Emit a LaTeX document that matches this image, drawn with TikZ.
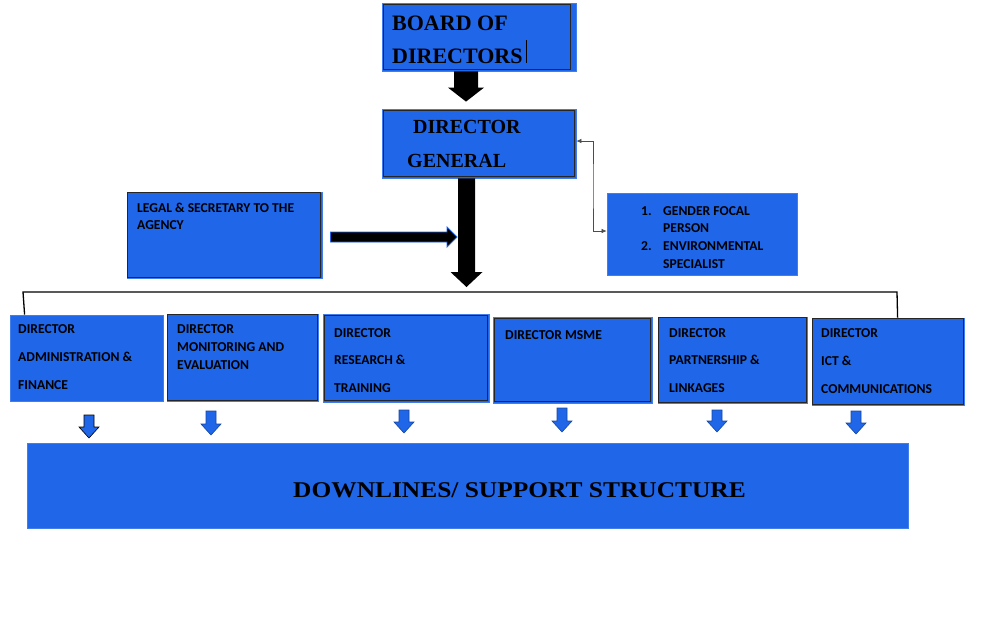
\documentclass[tikz,border=0pt]{standalone}
\usepackage{fontspec}
\setmainfont{Liberation Serif}
\newfontfamily\calfont{Carlito}
\usetikzlibrary{calc,arrows.meta}
\definecolor{boxblue}{RGB}{31,102,232}
\tikzset{
 box/.style={rectangle, fill=boxblue, draw=boxblue!85!white, line width=0.8pt, inner sep=0pt},
 rimline/.style={draw=black!85, line width=0.9pt},
 lbl/.style={anchor=base west, inner sep=0pt, text=black},
 dtext/.style={lbl, font=\calfont\bfseries\fontsize{13.6}{15}\selectfont},
 stext/.style={lbl, font=\bfseries\fontsize{22}{26}\selectfont},
 gtext/.style={lbl, font=\bfseries\fontsize{20}{24}\selectfont},
 blk/.style={fill=black},
 lgarrow/.style={fill=black, draw=boxblue, line width=0.8pt},
 sarrow/.style={fill=boxblue, draw=boxblue!70!black, line width=0.6pt},
 sarrowk/.style={fill=boxblue, draw=black, line width=0.6pt},
 conn/.style={draw=black!70, line width=0.6pt, {Latex[length=5pt,width=4.5pt]}-{Latex[length=5pt,width=4.5pt]}},
 bracket/.style={draw=black, line width=1.3pt},
}
\newcommand\Lines[2]{\parbox[t]{9cm}{\setlength{\baselineskip}{#1}#2}}
\newcommand\rim[3]{\draw[rimline] ([shift={(#2pt,-#2pt)}]#1.north west) rectangle ([shift={(-#3pt,#2pt)}]#1.south east);}
\newcommand\vblock[6][blk]{\path[#1] let \p1=(#2), \p2=(#3) in (\x1-#4,\y1) -- (\x1+#4,\y1) -- (\x1+#4,\y2+#6) -- (\x1+#5,\y2+#6) -- (\x1,\y2) -- (\x1-#5,\y2+#6) -- (\x1-#4,\y2+#6) -- cycle;}
\newcommand\hblock[6][blk]{\path[#1] let \p1=(#2), \p2=(#3) in (\x1,\y1-#4) -- (\x1,\y1+#4) -- (\x2-#6,\y1+#4) -- (\x2-#6,\y1+#5) -- (\x2,\y1) -- (\x2-#6,\y1-#5) -- (\x2-#6,\y1-#4) -- cycle;}
\begin{document}
\begin{tikzpicture}[x=1pt,y=-1pt]
\useasboundingbox (0,0) rectangle (984,641);
% boxes
\node[box, minimum width=194pt, minimum height=68pt] (bod) at (479,37) {};
\rim{bod}{2}{6}
\node[box, minimum width=194pt, minimum height=69pt] (dg) at (479,143.5) {};
\rim{dg}{2}{2}
\node[box, minimum width=195pt, minimum height=86pt] (lg) at (224.5,235) {};
\rim{lg}{1}{1.5}
\node[box, minimum width=190pt, minimum height=82pt] (gn) at (702,234) {};
\node[box, minimum width=153pt, minimum height=86pt] (adm) at (86.5,358) {};
\node[box, minimum width=151pt, minimum height=87pt] (me) at (242.5,357.5) {};
\rim{me}{1}{1}
\node[box, minimum width=166pt, minimum height=88pt] (rt) at (406,358) {};
\rim{rt}{2}{2}
\node[box, minimum width=159pt, minimum height=86pt] (msme) at (572.5,360) {};
\rim{msme}{2}{2}
\node[box, minimum width=149pt, minimum height=86pt] (pl) at (732.5,360) {};
\rim{pl}{1}{1}
\node[box, minimum width=152pt, minimum height=87pt] (ict) at (888,361.5) {};
\rim{ict}{1}{1}
\node[box, minimum width=881pt, minimum height=85pt] (down) at (467.5,485.5) {};
% texts
\node[stext] (bodt) at (392,30) {\Lines{33pt}{BOARD OF\\DIRECTORS}};
\draw[line width=0.7pt] (526,40) -- (526,63);
\node[gtext] (dgt1) at (413,133) {DIRECTOR};
\node[gtext] (dgt2) at (407,167) {GENERAL};
\node[dtext] (lgt) at (137,212) {\Lines{17.5pt}{LEGAL \& SECRETARY TO THE\\AGENCY}};
\node[dtext] (gn1) at (641,215) {1.};
\node[dtext] (gn1t) at (663,215) {\Lines{17.7pt}{GENDER FOCAL\\PERSON}};
\node[dtext] (gn2) at (641,250.5) {2.};
\node[dtext] (gn2t) at (663,250.5) {\Lines{17.7pt}{ENVIRONMENTAL\\SPECIALIST}};
\node[dtext] (admt) at (18,333) {\Lines{28pt}{DIRECTOR\\ADMINISTRATION \&\\FINANCE}};
\node[dtext] (met) at (177,333) {\Lines{18pt}{DIRECTOR\\MONITORING AND\\EVALUATION}};
\node[dtext] (rtt) at (334,337) {\Lines{27.5pt}{DIRECTOR\\RESEARCH \&\\TRAINING}};
\node[dtext] (msmet) at (505,339) {DIRECTOR MSME};
\node[dtext] (plt) at (669,337) {\Lines{27.5pt}{DIRECTOR\\PARTNERSHIP \&\\LINKAGES}};
\node[dtext] (ictt) at (821,337.5) {\Lines{28pt}{DIRECTOR\\ICT \&\\COMMUNICATIONS}};
\node[anchor=base, inner sep=0pt, xscale=1.13, font=\bfseries\fontsize{22.5}{27}\selectfont] (downt) at (519.5,497) {DOWNLINES/ SUPPORT STRUCTURE};
% block arrows
\coordinate (b1s) at ([xshift=-13pt]bod.south);
\coordinate (b1e) at ([xshift=-13pt,yshift=7pt]dg.north);
\vblock{b1s}{b1e}{12pt}{18pt}{14pt}
\coordinate (b2s) at ([xshift=-12.5pt]dg.south);
\coordinate (b2e) at (466.5,287);
\vblock{b2s}{b2e}{8.5pt}{16pt}{15pt}
\coordinate (lgs) at ([xshift=8pt,yshift=-2pt]lg.east);
\coordinate (lge) at (457,237);
\hblock[lgarrow]{lgs}{lge}{5pt}{10pt}{10pt}
% connector DG <-> gender
\coordinate (vx) at (593,186);
\draw[conn] ([yshift=2.5pt]dg.east) -| (vx) |- ([yshift=3pt]gn.west);
% bracket
\draw[bracket] ([xshift=15pt]adm.north west) -- (23,292) -- (897,292) -- ([xshift=86pt]ict.north west);
% small arrows
\coordinate (s1) at (89,415);  \coordinate (e1) at (89,438);
\coordinate (s2) at (211,411); \coordinate (e2) at (211,435);
\coordinate (s3) at (404,410); \coordinate (e3) at (404,433);
\coordinate (s4) at (562,408); \coordinate (e4) at (562,432);
\coordinate (s5) at (717,410); \coordinate (e5) at (717,432);
\coordinate (s6) at (856,411); \coordinate (e6) at (856,434);
\vblock[sarrowk]{s1}{e1}{5pt}{10pt}{11pt}
\vblock[sarrow]{s2}{e2}{5pt}{10pt}{11pt}
\vblock[sarrow]{s3}{e3}{5pt}{10pt}{11pt}
\vblock[sarrow]{s4}{e4}{5pt}{10pt}{11pt}
\vblock[sarrow]{s5}{e5}{5pt}{10pt}{11pt}
\vblock[sarrow]{s6}{e6}{5pt}{10pt}{11pt}
\end{tikzpicture}
\end{document}
